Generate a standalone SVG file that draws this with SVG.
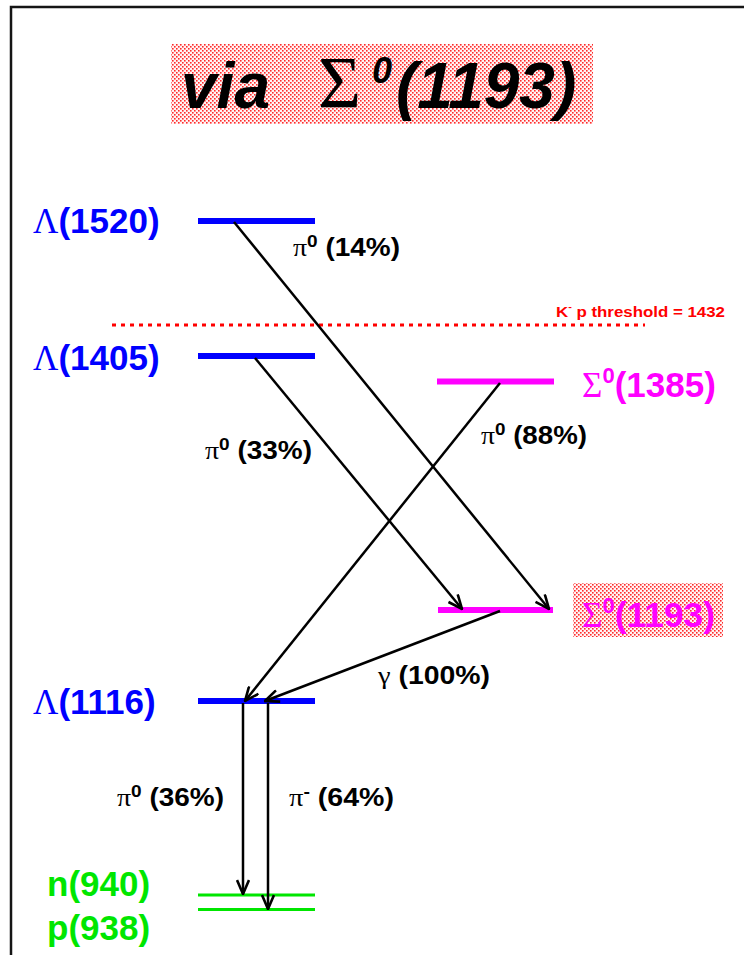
<svg xmlns="http://www.w3.org/2000/svg" width="744" height="955" viewBox="0 0 744 955">
<defs>
<pattern id="dots" width="4" height="4" patternUnits="userSpaceOnUse">
<rect width="4" height="4" fill="#fff4f4"/>
<rect x="0" y="0" width="1.6" height="1.6" fill="#ff2a2a"/>
<rect x="2" y="2" width="1.6" height="1.6" fill="#ff2a2a"/>
</pattern>
<marker id="ah" viewBox="0 0 16 14" refX="15" refY="7" markerWidth="16" markerHeight="14" markerUnits="userSpaceOnUse" orient="auto">
<path d="M1,1 L15,7 L1,13" fill="none" stroke="#000" stroke-width="2.6"/>
</marker>
</defs>
<style>
.sans{font-family:"Liberation Sans",Arial,sans-serif;font-weight:bold}
.serif{font-family:"Liberation Serif","Times New Roman",serif;font-weight:normal}
.lbl{font-size:35px}
.small{font-size:25px;fill:#000}
.blue{fill:#0000ff}
.mag{fill:#ff00ff}
.green{fill:#00e600}
.lvl{stroke-width:6}
.conn line{stroke:#000;stroke-width:2.5;marker-end:url(#ah)}
</style>
<rect width="744" height="955" fill="#fff"/>
<path d="M11,955 V7 H744" fill="none" stroke="#151515" stroke-width="2.5"/>

<g id="title">
<rect x="171" y="44" width="422" height="80" fill="url(#dots)"/>
<text y="108" style="font-size:64px" fill="#000"><tspan x="318" class="serif" font-size="74">Σ</tspan><tspan x="372" class="sans" font-style="italic" font-size="36" dy="-25">0</tspan><tspan x="396" dy="25" class="sans" font-style="italic">(1193)</tspan><tspan x="181" class="sans" font-style="italic">via</tspan></text>
</g>

<g id="threshold">
<line x1="112" y1="325" x2="645" y2="325" stroke="#ff0000" stroke-width="3" stroke-dasharray="4 5"/>
<text x="556" y="317" class="sans" font-size="14" fill="#ff0000" textLength="169" lengthAdjust="spacingAndGlyphs">K<tspan font-size="9" dy="-7">-</tspan><tspan dy="7"> p threshold = 1432</tspan></text>
</g>

<g id="L1520">
<line x1="198" y1="221" x2="315" y2="221" stroke="#0000ff" class="lvl"/>
<text y="233" class="lbl blue"><tspan x="33" class="serif">Λ</tspan><tspan class="sans">(1520)</tspan></text>
</g>

<g id="L1405">
<line x1="198" y1="356" x2="315" y2="356" stroke="#0000ff" class="lvl"/>
<text y="370" class="lbl blue"><tspan x="33" class="serif">Λ</tspan><tspan class="sans">(1405)</tspan></text>
</g>

<g id="S1385">
<line x1="437" y1="381.5" x2="554" y2="381.5" stroke="#ff00ff" class="lvl"/>
<text y="397" class="lbl mag"><tspan x="582" class="serif">Σ</tspan><tspan class="sans" font-size="22" dy="-14">0</tspan><tspan class="sans" dy="14">(1385)</tspan></text>
</g>

<g id="S1193">
<rect x="573" y="583" width="150" height="54" fill="url(#dots)"/>
<line x1="438" y1="610" x2="553" y2="610" stroke="#ff00ff" class="lvl"/>
<text y="627" class="lbl mag" textLength="133" lengthAdjust="spacingAndGlyphs"><tspan x="582" class="serif">Σ</tspan><tspan class="sans" font-size="22" dy="-14">0</tspan><tspan class="sans" dy="14">(1193)</tspan></text>
</g>

<g id="L1116">
<line x1="198" y1="701" x2="315" y2="701" stroke="#0000ff" class="lvl"/>
<text y="714" class="lbl blue"><tspan x="33" class="serif">Λ</tspan><tspan class="sans">(1116)</tspan></text>
</g>

<g id="n940">
<line x1="198" y1="895" x2="315" y2="895" stroke="#00e600" stroke-width="3"/>
<text x="47" y="896" class="sans lbl green">n(940)</text>
</g>

<g id="p938">
<line x1="198" y1="909.5" x2="315" y2="909.5" stroke="#00e600" stroke-width="3"/>
<text x="47" y="940" class="sans lbl green">p(938)</text>
</g>

<g id="connectors" class="conn">
<line x1="234" y1="222" x2="549" y2="609"/>
<line x1="255" y1="358" x2="462" y2="609"/>
<line x1="500" y1="383" x2="245" y2="701"/>
<line x1="500" y1="611" x2="265" y2="701"/>
<line x1="243" y1="703" x2="243" y2="894"/>
<line x1="268" y1="703" x2="268" y2="909"/>
</g>

<g id="labels" class="small">
<text y="256" textLength="107" lengthAdjust="spacingAndGlyphs"><tspan x="293" class="serif">π</tspan><tspan class="sans" font-size="17" dy="-9">0</tspan><tspan class="sans" dy="9"> (14%)</tspan></text>
<text y="444" textLength="106" lengthAdjust="spacingAndGlyphs"><tspan x="481" class="serif">π</tspan><tspan class="sans" font-size="17" dy="-9">0</tspan><tspan class="sans" dy="9"> (88%)</tspan></text>
<text y="459" textLength="107" lengthAdjust="spacingAndGlyphs"><tspan x="205" class="serif">π</tspan><tspan class="sans" font-size="17" dy="-9">0</tspan><tspan class="sans" dy="9"> (33%)</tspan></text>
<text y="684" textLength="112" lengthAdjust="spacingAndGlyphs"><tspan x="378" class="serif">γ</tspan><tspan class="sans"> (100%)</tspan></text>
<text y="806" textLength="107" lengthAdjust="spacingAndGlyphs"><tspan x="117" class="serif">π</tspan><tspan class="sans" font-size="17" dy="-9">0</tspan><tspan class="sans" dy="9"> (36%)</tspan></text>
<text y="806" textLength="105" lengthAdjust="spacingAndGlyphs"><tspan x="289" class="serif">π</tspan><tspan class="sans" font-size="17" dy="-9">-</tspan><tspan class="sans" dy="9"> (64%)</tspan></text>
</g>
</svg>
